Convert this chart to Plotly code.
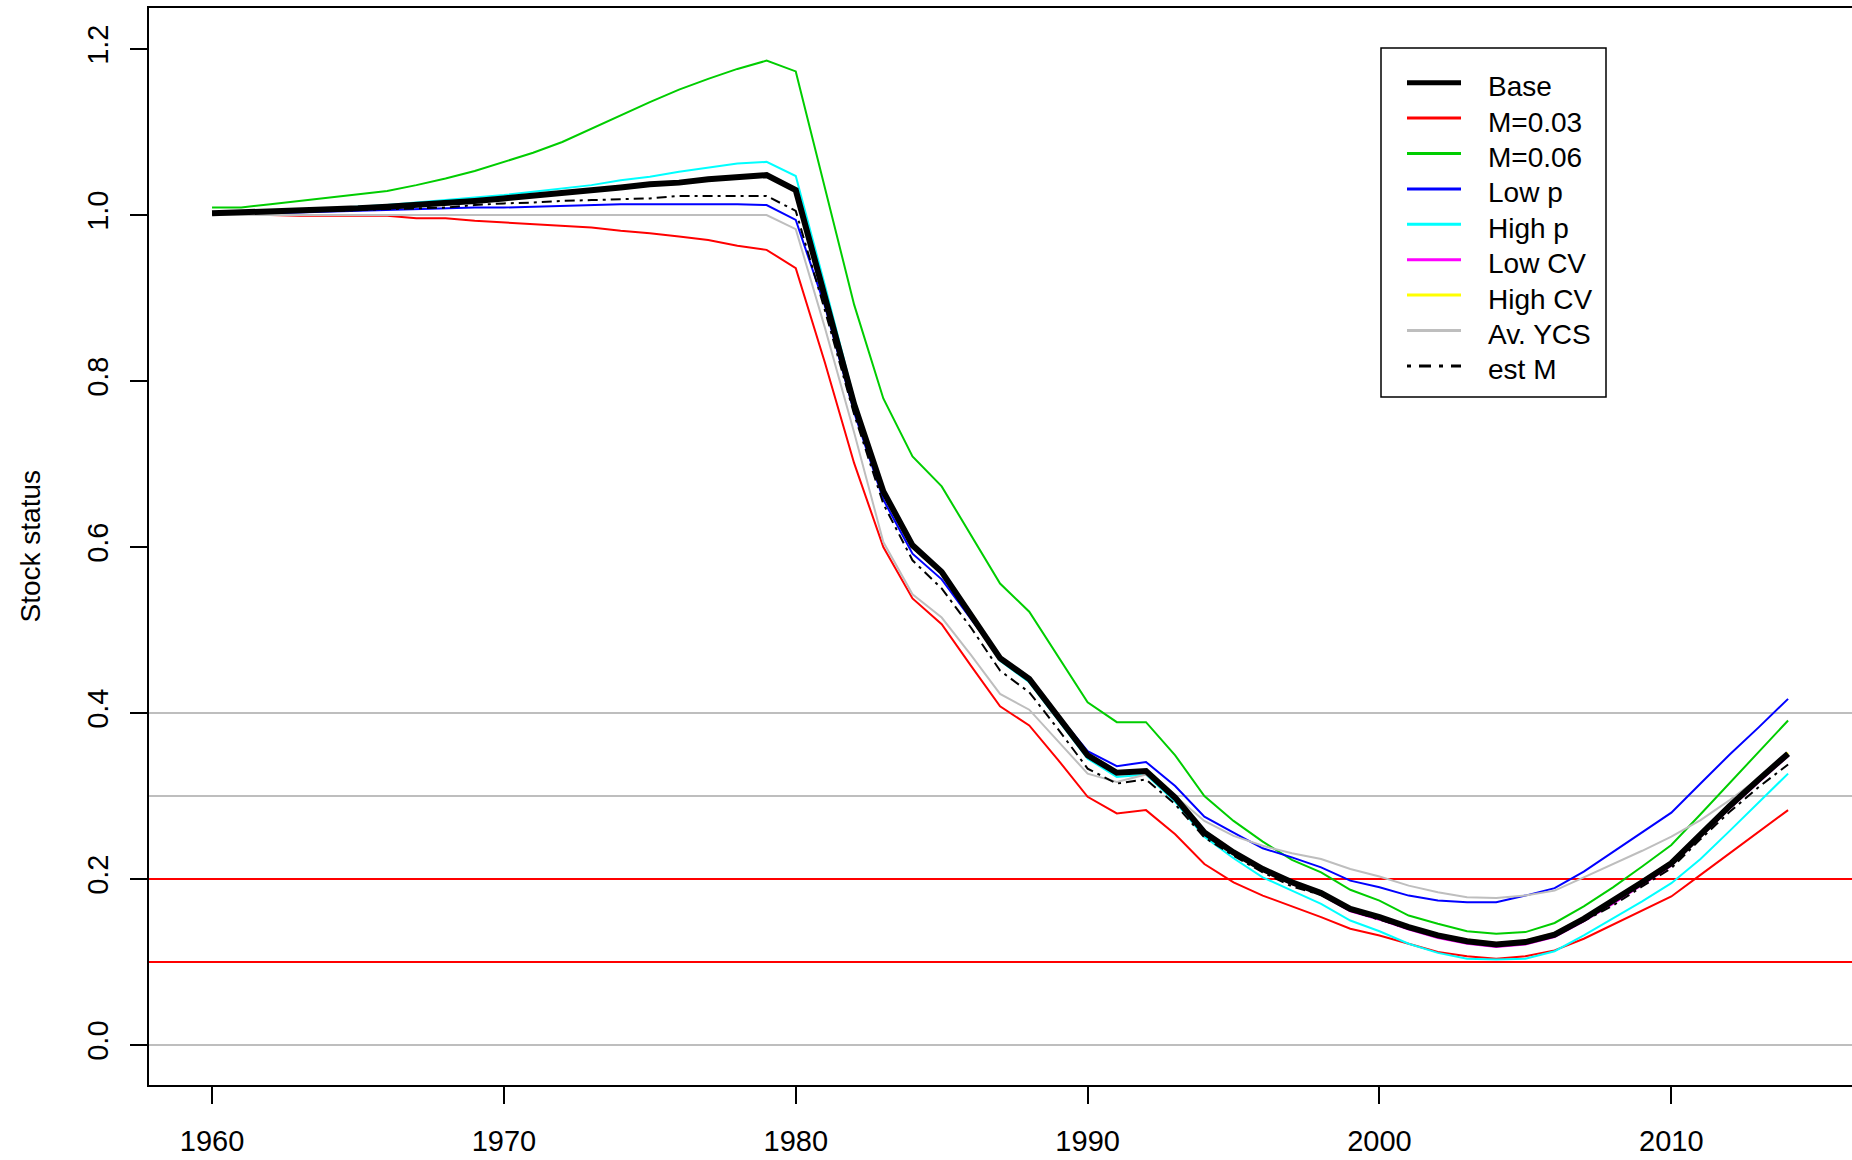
import plotly.graph_objects as go

# years of the assessment
years = list(range(1960, 2015))

base = [1.002, 1.003, 1.004, 1.005, 1.007, 1.008, 1.010, 1.012, 1.014, 1.017,
        1.020, 1.023, 1.026, 1.030, 1.033, 1.037, 1.039, 1.043, 1.046, 1.048,
        1.030, 0.900, 0.772, 0.667, 0.602, 0.570, 0.519, 0.466, 0.441, 0.395,
        0.349, 0.328, 0.330, 0.298, 0.256, 0.232, 0.212, 0.196, 0.183, 0.164,
        0.154, 0.142, 0.132, 0.125, 0.121, 0.124, 0.133, 0.152, 0.173, 0.196,
        0.219, 0.254, 0.288, 0.320, 0.351]

m003 = [1.000, 1.000, 1.000, 0.999, 0.999, 0.999, 0.999, 0.996, 0.996, 0.993,
        0.991, 0.989, 0.987, 0.985, 0.981, 0.978, 0.974, 0.970, 0.963, 0.958,
        0.936, 0.822, 0.701, 0.600, 0.538, 0.507, 0.457, 0.408, 0.385, 0.343,
        0.299, 0.279, 0.283, 0.254, 0.218, 0.196, 0.180, 0.167, 0.154, 0.140,
        0.132, 0.122, 0.112, 0.107, 0.104, 0.107, 0.114, 0.128, 0.145, 0.162,
        0.179, 0.205, 0.231, 0.257, 0.283]

m006 = [1.009, 1.009, 1.013, 1.017, 1.021, 1.025, 1.029, 1.036, 1.044, 1.053,
        1.064, 1.075, 1.088, 1.104, 1.120, 1.136, 1.151, 1.164, 1.176, 1.186,
        1.173, 1.032, 0.892, 0.779, 0.709, 0.673, 0.615, 0.556, 0.522, 0.468,
        0.413, 0.389, 0.389, 0.349, 0.300, 0.270, 0.245, 0.223, 0.208, 0.187,
        0.174, 0.156, 0.146, 0.137, 0.134, 0.136, 0.147, 0.167, 0.190, 0.215,
        0.241, 0.278, 0.316, 0.354, 0.391]

low_p = [1.001, 1.001, 1.002, 1.003, 1.004, 1.005, 1.006, 1.007, 1.008, 1.009,
         1.009, 1.010, 1.011, 1.012, 1.013, 1.013, 1.013, 1.013, 1.013, 1.012,
         0.994, 0.890, 0.762, 0.657, 0.592, 0.561, 0.513, 0.466, 0.440, 0.397,
         0.354, 0.336, 0.341, 0.312, 0.275, 0.256, 0.237, 0.226, 0.214, 0.198,
         0.190, 0.180, 0.174, 0.172, 0.172, 0.180, 0.189, 0.209, 0.233, 0.257,
         0.280, 0.315, 0.350, 0.383, 0.417]

high_p = [1.002, 1.003, 1.004, 1.006, 1.008, 1.010, 1.012, 1.015, 1.018, 1.021,
          1.024, 1.028, 1.032, 1.036, 1.042, 1.046, 1.052, 1.057, 1.062, 1.064,
          1.047, 0.915, 0.778, 0.668, 0.602, 0.568, 0.517, 0.463, 0.437, 0.391,
          0.345, 0.323, 0.326, 0.293, 0.251, 0.225, 0.202, 0.186, 0.170, 0.150,
          0.137, 0.122, 0.111, 0.104, 0.103, 0.104, 0.113, 0.132, 0.152, 0.173,
          0.195, 0.224, 0.258, 0.293, 0.327]

low_cv = [1.002, 1.003, 1.004, 1.005, 1.007, 1.008, 1.010, 1.012, 1.014, 1.017,
          1.020, 1.023, 1.026, 1.030, 1.033, 1.037, 1.040, 1.044, 1.047, 1.049,
          1.030, 0.900, 0.771, 0.666, 0.601, 0.569, 0.518, 0.465, 0.440, 0.394,
          0.348, 0.327, 0.329, 0.297, 0.255, 0.231, 0.210, 0.194, 0.181, 0.161,
          0.151, 0.139, 0.129, 0.122, 0.118, 0.121, 0.130, 0.149, 0.170, 0.193,
          0.216, 0.251, 0.285, 0.317, 0.348]

high_cv = [1.002, 1.003, 1.004, 1.005, 1.007, 1.008, 1.010, 1.012, 1.014, 1.017,
           1.020, 1.023, 1.026, 1.030, 1.033, 1.037, 1.039, 1.043, 1.046, 1.048,
           1.030, 0.900, 0.772, 0.667, 0.602, 0.570, 0.520, 0.467, 0.442, 0.396,
           0.350, 0.329, 0.331, 0.299, 0.257, 0.233, 0.213, 0.197, 0.184, 0.165,
           0.155, 0.143, 0.133, 0.127, 0.123, 0.126, 0.135, 0.154, 0.175, 0.198,
           0.221, 0.255, 0.289, 0.321, 0.352]

av_ycs = [1.000, 1.000, 1.000, 1.000, 1.000, 1.000, 1.000, 1.000, 1.000, 1.000,
          1.000, 1.000, 1.000, 1.000, 1.000, 1.000, 1.000, 1.000, 1.000, 1.000,
          0.983, 0.864, 0.738, 0.606, 0.543, 0.515, 0.470, 0.423, 0.404, 0.365,
          0.327, 0.317, 0.326, 0.300, 0.270, 0.252, 0.240, 0.231, 0.224, 0.212,
          0.203, 0.192, 0.184, 0.178, 0.177, 0.180, 0.186, 0.202, 0.218, 0.234,
          0.251, 0.271, 0.295, 0.322, 0.348]

est_m = [1.001, 1.002, 1.003, 1.004, 1.005, 1.006, 1.007, 1.008, 1.009, 1.012,
         1.014, 1.015, 1.017, 1.018, 1.019, 1.020, 1.023, 1.023, 1.023, 1.023,
         1.005, 0.885, 0.760, 0.652, 0.584, 0.550, 0.503, 0.451, 0.425, 0.380,
         0.333, 0.315, 0.320, 0.290, 0.250, 0.228, 0.208, 0.191, 0.181, 0.162,
         0.151, 0.140, 0.131, 0.124, 0.120, 0.123, 0.131, 0.149, 0.168, 0.191,
         0.213, 0.248, 0.281, 0.311, 0.338]

# reference levels
ref_grey = [0.4, 0.3, 0.0]
ref_red = [0.2, 0.1]

W, H = 1852, 1160
ML, MR, MT, MB = 149, 0, 8, 75
PW, PH = W - ML - MR, H - MT - MB


def px_x(p):
    return (p - ML) / PW


def px_y(p):
    return (H - MB - p) / PH


fig = go.Figure()

for v in ref_grey:
    fig.add_hline(y=v, line=dict(color="#BEBEBE", width=2), layer="below")
for v in ref_red:
    fig.add_hline(y=v, line=dict(color="#FF0000", width=2), layer="below")

dotdash = "3px,5px,10px,5px"
series = [
    ("M=0.03", m003, "#FF0000", 2, "solid"),
    ("M=0.06", m006, "#00CD00", 2, "solid"),
    ("Low p", low_p, "#0000FF", 2, "solid"),
    ("High p", high_p, "#00FFFF", 2, "solid"),
    ("Low CV", low_cv, "#FF00FF", 2, "solid"),
    ("High CV", high_cv, "#FFFF00", 2, "solid"),
    ("Av. YCS", av_ycs, "#BEBEBE", 2, "solid"),
    ("est M", est_m, "#000000", 2, dotdash),
]
for name, vals, col, w, dash in series:
    fig.add_trace(go.Scatter(x=years, y=vals, mode="lines", name=name,
                             line=dict(color=col, width=w, dash=dash)))

# base case drawn last so it sits on top
fig.add_trace(go.Scatter(x=years, y=base, mode="lines", name="Base",
                         line=dict(color="#000000", width=6)))

# legend box drawn by hand to match the R layout
legend_items = [("Base", "#000000", 5, "solid")] + [(s[0], s[2], 3, s[4]) for s in series]
fig.add_shape(type="rect", xref="paper", yref="paper",
              x0=px_x(1381), x1=px_x(1606), y0=px_y(397), y1=px_y(48),
              line=dict(color="black", width=1.5), fillcolor="white", layer="above")
for i, (name, col, w, dash) in enumerate(legend_items):
    yy = 82.7 + 35.4 * i
    fig.add_shape(type="line", xref="paper", yref="paper",
                  x0=px_x(1407), x1=px_x(1461), y0=px_y(yy), y1=px_y(yy),
                  line=dict(color=col, width=w,
                            dash="4px,8px,12px,8px" if dash != "solid" else "solid"),
                  layer="above")
    fig.add_annotation(text=name, xref="paper", yref="paper",
                       x=px_x(1486), y=px_y(yy + 4), xanchor="left", yanchor="middle",
                       showarrow=False, font=dict(size=28))

fig.add_annotation(text="Stock status", xref="paper", yref="paper",
                   x=0, y=0.5, xshift=-119, xanchor="center", yanchor="middle",
                   textangle=-90, showarrow=False, font=dict(size=28))

fig.update_layout(
    width=W, height=H,
    margin=dict(l=ML, r=MR, t=MT, b=MB),
    plot_bgcolor="white", paper_bgcolor="white",
    font=dict(family="Liberation Sans, Arial, sans-serif", size=29, color="black"),
    showlegend=False,
)

fig.update_xaxes(range=[1957.84, 2016.19], tickvals=[1960, 1970, 1980, 1990, 2000, 2010],
                 ticks="outside", ticklen=17, tickwidth=1.5, tickcolor="black",
                 showline=True, linecolor="black", linewidth=2, mirror=True,
                 showgrid=False, zeroline=False, ticklabelstandoff=12, automargin=False)
fig.update_yaxes(range=[-0.0482, 1.2494], tickvals=[0, 0.2, 0.4, 0.6, 0.8, 1.0, 1.2],
                 ticktext=["0.0", "0.2", "0.4", "0.6", "0.8", "1.0", "1.2"],
                 tickangle=-90, ticks="outside", ticklen=17, tickwidth=1.5, tickcolor="black",
                 showline=True, linecolor="black", linewidth=2, mirror=False,
                 showgrid=False, zeroline=False, ticklabelstandoff=10, automargin=False)

fig.write_html("out.html", config={"displayModeBar": False},
               post_script="document.body.style.margin='0';")
